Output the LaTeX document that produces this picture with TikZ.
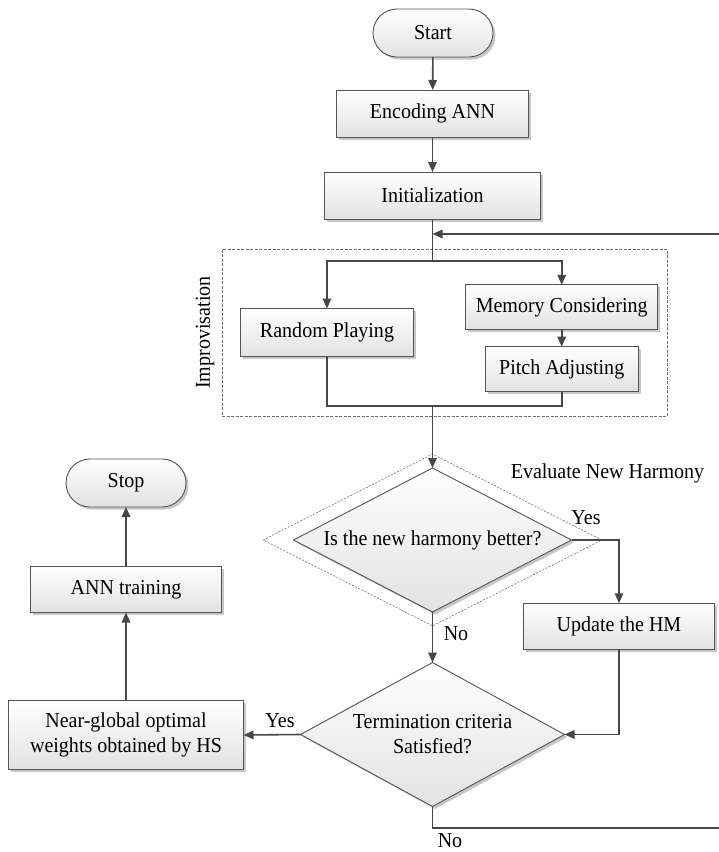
\documentclass[tikz,border=0pt]{standalone}
\usepackage{fontspec}
\setmainfont{Liberation Serif}[FakeStretch=0.94]
\usetikzlibrary{arrows.meta,shapes.geometric,shapes.misc,shadows}
\definecolor{linegray}{HTML}{474747}
\definecolor{edgegray}{HTML}{555555}
\definecolor{fillbot}{HTML}{E2E2E2}
\definecolor{dashgray}{HTML}{707070}
\begin{document}
\begin{tikzpicture}[x=1pt,y=-1pt,
  font=\fontsize{21.3}{25}\selectfont,
  base/.style={draw=edgegray, line width=0.9pt, top color=white, bottom color=fillbot,
    drop shadow={shadow xshift=2.5pt, shadow yshift=-2.5pt, fill=black!22, opacity=1},
    inner sep=0pt, outer sep=0pt, align=center},
  proc/.style={base, rectangle, minimum height=46pt},
  terminal/.style={base, rounded rectangle, minimum width=120pt, minimum height=48pt},
  decision/.style={base, diamond},
  zone/.style={draw=dashgray, line width=0.8pt, dash pattern=on 3pt off 1.5pt, inner sep=0pt},
  conn/.style={draw=linegray, line width=1.6pt},
  arr/.style={conn, -{Triangle[length=10pt, width=8.5pt]}},
  tag/.style={inner sep=0pt}
]
\useasboundingbox (0,0) rectangle (719,852);

% main column
\node[terminal] (start) at (433,33) {Start};
\node[proc, minimum width=192pt, minimum height=47pt] (enc) at (432.5,113.5) {Encoding ANN};
\node[proc, minimum width=216pt, minimum height=47pt] (init) at (432.5,195.5) {Initialization};

% improvisation block
\node[zone, minimum width=445pt, minimum height=167pt] (impr) at (444.5,332.5) {};
\node[tag, rotate=90] (imprlabel) at (205,332.5) {Improvisation};
\node[proc, minimum width=173pt, minimum height=48pt] (rand) at (327,332.5) {Random Playing};
\node[proc, minimum width=192pt, minimum height=45pt] (mem) at (561.7,307.3) {Memory Considering};
\node[proc, minimum width=153pt, minimum height=45pt] (pitch) at (561.7,369.2) {Pitch Adjusting};
\coordinate (entry) at (432.5,234);
\coordinate (split) at (432.5,261);
\coordinate (merge) at (432.5,405.7);

% evaluation
\node[diamond, zone, line width=0.6pt, dash pattern=on 2pt off 1.5pt,
      minimum width=339pt, minimum height=172pt] (evalzone) at (432.5,540) {};
\node[decision, minimum width=278pt, minimum height=144pt] (better) at (432.5,540) {};
\node[tag] (bettertext) at (better.center) {Is the new harmony better?};
\node[tag] (evallabel) at (607.5,473.5) {Evaluate New Harmony};
\node[proc, minimum width=191pt, minimum height=46pt] (upd) at (619,626.3) {Update the HM};

% termination
\node[decision, minimum width=264pt, minimum height=144pt] (term) at (432.5,734.5) {};
\node[tag, align=center] (termtext) at (term.center) {Termination criteria\\Satisfied?};
\node[proc, minimum width=235pt, minimum height=69pt] (near) at (126,735)
  {Near-global optimal\\weights obtained by HS};
\node[proc, minimum width=191pt, minimum height=46pt] (train) at (126,589.5) {ANN training};
\node[terminal] (stop) at (126,483) {Stop};

% labels on branches
\node[tag] (yes1) at (586,518) {Yes};
\node[tag] (no1) at (456,634) {No};
\node[tag] (yes2) at (280,721) {Yes};
\node[tag] (no2) at (450,841) {No};

% loop-back route (runs off the right edge)
\coordinate (loopA) at (432.5,827.7);
\coordinate (loopB) at (740,827.7);
\coordinate (loopC) at (740,234);

% connectors
\draw[arr] (start) -- (enc);
\draw[arr] (enc) -- (init);
\draw[conn] (init.south) -- (split);
\draw[arr] (split) -| (rand.north);
\draw[arr] (split) -| (mem.north);
\draw[arr] (mem) -- (pitch);
\draw[conn] (rand.south) |- (merge);
\draw[conn] (pitch.south) |- (merge);
\draw[arr] (merge) -- (better.north);
\draw[arr] (better.east) -| (upd.north);
\draw[arr] (better.south) -- (term.north);
\draw[arr] (upd.south) |- (term.east);
\draw[arr] (term.west) -- (near.east);
\draw[arr] (near.north) -- (train.south);
\draw[arr] (train.north) -- (stop.south);
\draw[arr] (term.south) -- (loopA) -- (loopB) -- (loopC) -- (entry);
\end{tikzpicture}
\end{document}
